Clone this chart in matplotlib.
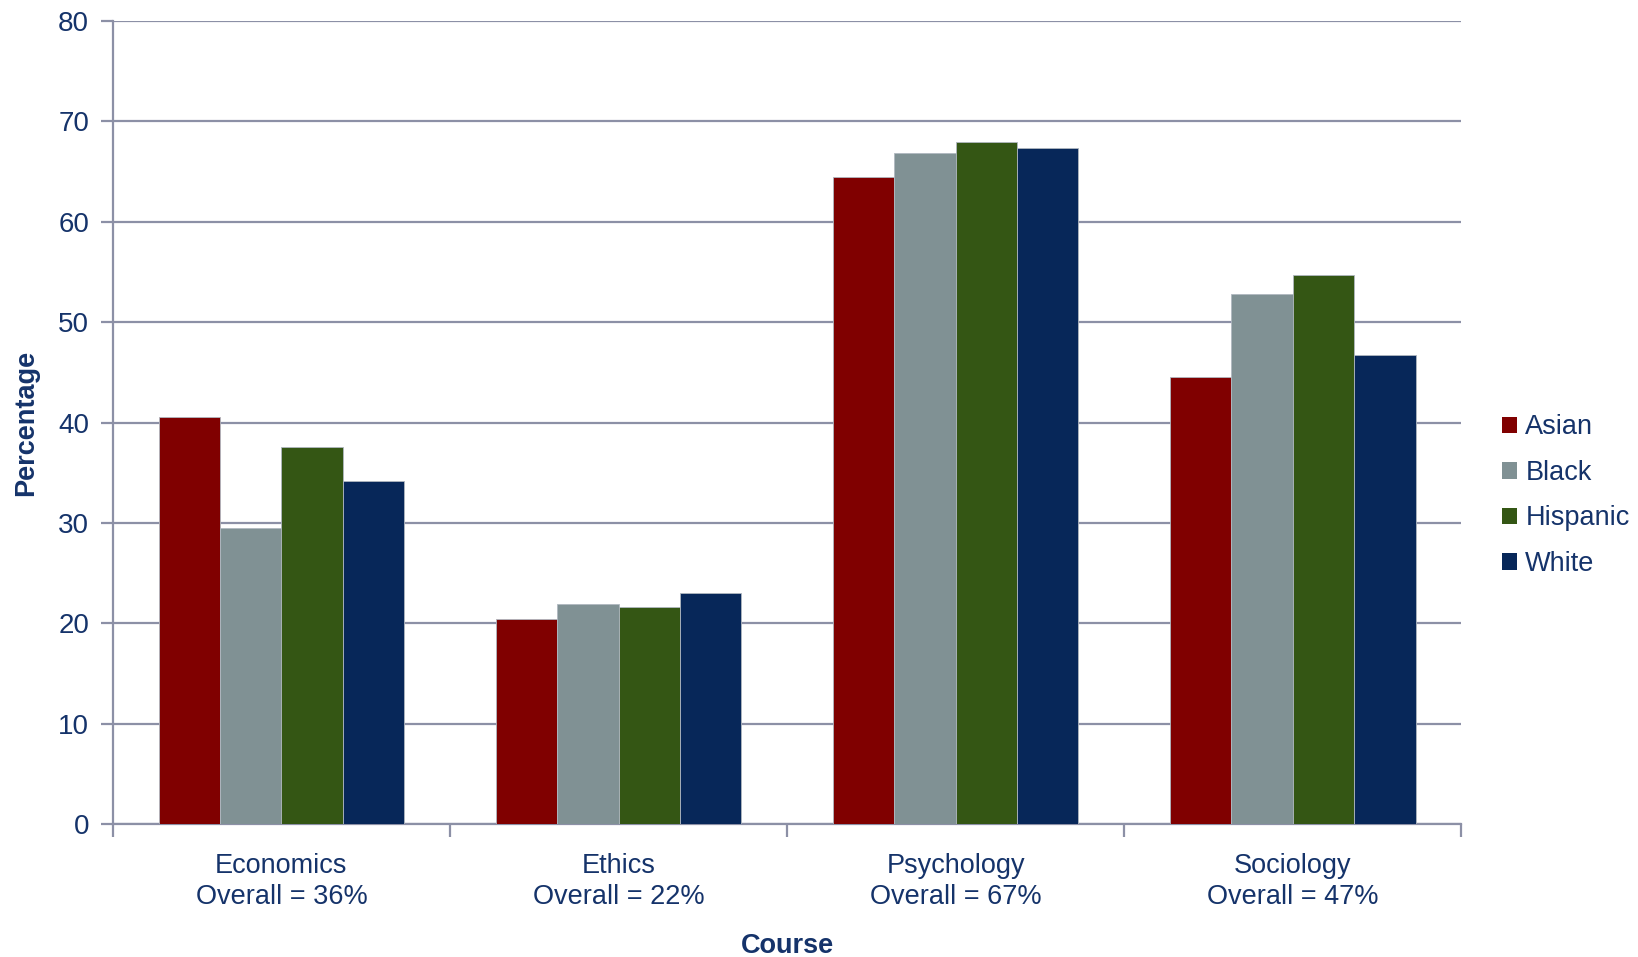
import matplotlib
matplotlib.use("Agg")
import matplotlib.pyplot as plt
import numpy as np

courses = ["Economics", "Ethics", "Psychology", "Sociology"]
overall = ["36%", "22%", "67%", "47%"]
groups = ["Asian", "Black", "Hispanic", "White"]
asian = [40.5, 20.4, 64.5, 44.5]
black = [29.5, 21.9, 66.9, 52.8]
hispanic = [37.6, 21.6, 67.9, 54.7]
white = [34.2, 23.0, 67.4, 46.7]
colors = ["#800000", "#809194", "#345614", "#072759"]

plt.rcParams['font.family'] = ['Liberation Sans', 'DejaVu Sans']
text_col = "#15336A"
grid_col = "#8C90A6"
fs = 19.5

fig = plt.figure(figsize=(16.38, 9.57), dpi=100)
ax = fig.add_axes([0.0689, 0.139, 0.8233, 0.8390])

series = [asian, black, hispanic, white]
x = np.arange(len(courses))
bw = 0.182
for i, (vals, name, c) in enumerate(zip(series, groups, colors)):
    ax.bar(x + (i - 1.5) * bw, vals, width=bw, color=c, label=name,
           edgecolor="#B0B8C0", linewidth=0.6, zorder=3)

ax.set_xlim(-0.5, 3.5)
ax.set_ylim(0, 80)
ax.set_yticks(np.arange(0, 81, 10))
ax.yaxis.grid(True, color=grid_col, linewidth=1.6, zorder=0)
ax.set_axisbelow(True)

ax.set_xticks(x)
ax.set_xticklabels([f"{c}\nOverall = {o}" for c, o in zip(courses, overall)], linespacing=1.25)
ax.set_xticks(np.arange(-0.5, 4.0, 1.0), minor=True)
ax.tick_params(axis='x', which='major', length=0, pad=21, labelsize=fs, labelcolor=text_col)
ax.tick_params(axis='x', which='minor', length=9, width=1.6, color=grid_col, direction='out')
ax.tick_params(axis='y', length=9, width=1.6, color=grid_col, direction='out', labelsize=20,
               labelcolor=text_col, pad=8)

for s in ['top', 'right']:
    ax.spines[s].set_visible(False)
for s in ['left', 'bottom']:
    ax.spines[s].set_color(grid_col)
    ax.spines[s].set_linewidth(1.6)

ax.set_ylabel("Percentage", fontsize=fs, fontweight='bold', color=text_col, labelpad=14)
ax.set_xlabel("Course", fontsize=fs, fontweight='bold', color=text_col, labelpad=16.5)

leg = ax.legend(loc='center left', bbox_to_anchor=(0.9105, 0.482), bbox_transform=fig.transFigure,
                frameon=False, fontsize=fs, handlelength=0.55, handleheight=0.55,
                handletextpad=0.3, labelspacing=0.72, borderaxespad=0)
for t in leg.get_texts():
    t.set_color(text_col)
for h in leg.legend_handles:
    h.set_edgecolor('none')

fig.savefig("out.png", dpi=100)
